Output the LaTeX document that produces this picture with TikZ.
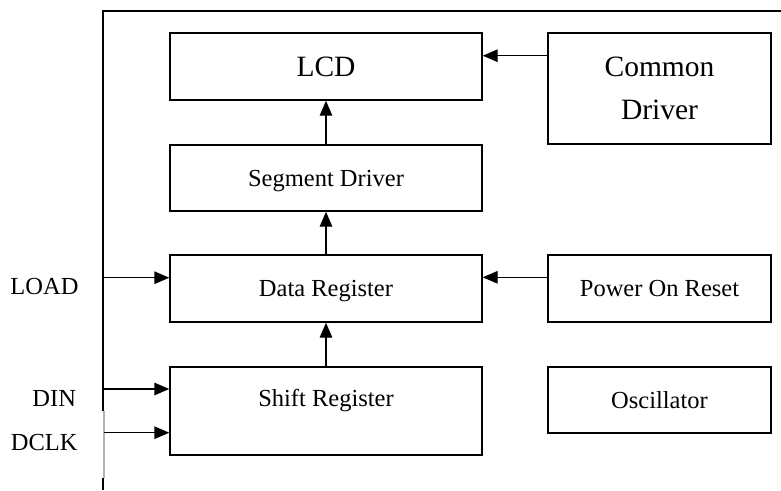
\documentclass[tikz,border=0pt]{standalone}
\usepackage{fontspec}
\setmainfont{Liberation Serif}
\usetikzlibrary{arrows.meta}
\begin{document}
\begin{tikzpicture}[x=1pt,y=-1pt,
  wire/.style={line width=1.4pt},
  arr/.style={wire,-{Triangle[length=15pt,width=12.5pt]}},
  frame/.style={draw,line width=1.4pt,inner sep=0pt},
  smalltxt/.style={font=\fontsize{24.5}{29}\selectfont,text height=16pt,text depth=0pt},
  bigtxt/.style={font=\fontsize{29.5}{43.3}\selectfont},
  box/.style={frame,smalltxt},
  lbl/.style={inner sep=0pt,smalltxt}]
\useasboundingbox (0,0) rectangle (781,490);
% blocks
\node[frame,bigtxt,text height=19.4pt,text depth=0pt,minimum width=312pt,minimum height=67pt] (lcd) at (326,66.5) {LCD};
\node[frame,minimum width=223pt,minimum height=111pt] (cd) at (659.5,88.5) {};
\node[inner sep=0pt,bigtxt,align=center] (cdl) at (659.5,88.5) {Common\\Driver};
\node[box,minimum width=312pt,minimum height=66pt] (sd) at (326,178) {Segment Driver};
\node[box,minimum width=312pt,minimum height=67pt] (dr) at (326,288.5) {Data Register};
\node[box,minimum width=223pt,minimum height=67pt] (por) at (659.5,288.5) {Power On Reset};
\node[frame,minimum width=312pt,minimum height=88pt] (sr) at (326,411) {};
\node[lbl] (srl) at (326,398.4) {Shift Register};
\node[box,minimum width=223pt,minimum height=66pt] (osc) at (659.5,400) {Oscillator};
% outer frame
\coordinate (ftr) at (781,11);
\coordinate (ftl) at (103,11);
\coordinate (fm) at (103,410.5);
\coordinate (fg1) at (104,410.5);
\coordinate (fg2) at (104,478);
\coordinate (fb1) at (103,478);
\coordinate (fb2) at (103,490);
\draw[wire] (ftr) -- (ftl) -- (fm);
\draw[line width=1.4pt,black!30] (fg1) -- (fg2);
\draw[wire] (fb1) -- (fb2);
% internal arrows
\coordinate (cdy) at (0,55.7);
\coordinate (pory) at (0,277.3);
\draw[arr] (cd.west |- cdy) -- (lcd.east |- cdy);
\draw[arr] (por.west |- pory) -- (dr.east |- pory);
\draw[arr] (sd.north) -- (lcd.south);
\draw[arr] (dr.north) -- (sd.south);
\draw[arr] (sr.north) -- (dr.south);
% inputs
\coordinate (loadS) at (103,277.7);
\coordinate (dinS) at (103,389);
\coordinate (dclkS) at (104,432.7);
\draw[arr] (loadS) -- (dr.west |- loadS);
\draw[arr] (dinS) -- (sr.west |- dinS);
\draw[arr] (dclkS) -- (sr.west |- dclkS);
\node[lbl] (load) at (44.5,286.7) {LOAD};
\node[lbl] (din) at (54.2,398.3) {DIN};
\node[lbl] (dclk) at (44.2,442.3) {DCLK};
\end{tikzpicture}
\end{document}
